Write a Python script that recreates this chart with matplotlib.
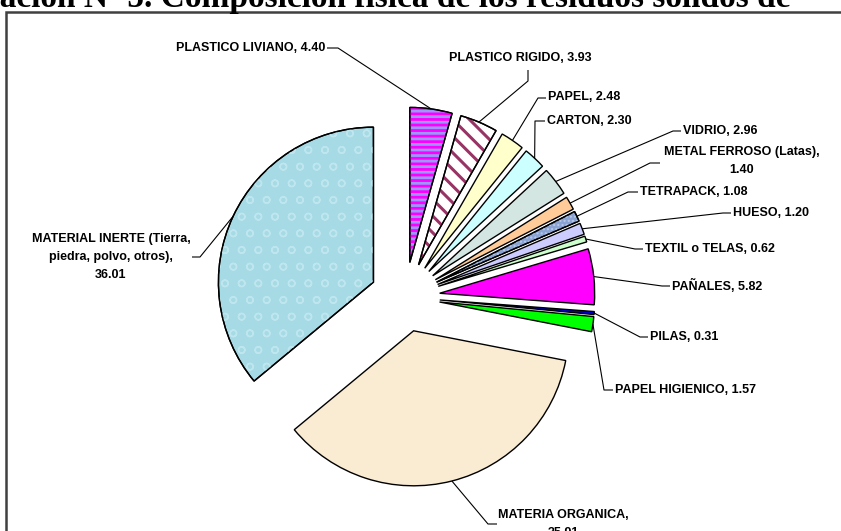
import numpy as np
import matplotlib
matplotlib.use("Agg")
import matplotlib.pyplot as plt
from matplotlib.patches import Wedge, Rectangle

# Composicion fisica de los residuos solidos (%)
categorias = [
    "PLASTICO LIVIANO", "PLASTICO RIGIDO", "PAPEL", "CARTON", "VIDRIO",
    "METAL FERROSO (Latas)", "TETRAPACK", "HUESO", "TEXTIL o TELAS",
    "PAÑALES", "PILAS", "PAPEL HIGIENICO", "MATERIA ORGANICA",
    "MATERIAL INERTE (Tierra,\npiedra, polvo, otros)",
]
valores = [4.40, 3.93, 2.48, 2.30, 2.96, 1.40, 1.08, 1.20, 0.62,
           5.82, 0.31, 1.57, 35.91, 36.01]
separadores = [", ", ", ", ", ", ", ", ", ", ",\n", ", ", ", ", ", ",
               ", ", ", ", ", ", ",\n", ",\n"]

colores = ["#9999ff", "#ffffff", "#ffffcc", "#ccffff", "#d3e6e2",
           "#ffcc99", "#8aa3d2", "#ccccff", "#ccffcc", "#ff00ff",
           "#0000cc", "#00ff00", "#faebd3", "#a6dbe6"]
# tramas (indice: (patron, color, grosor))
tramas = {0: ("---", "#ff00ff", 2.0), 1: ("\\\\", "#993366", 2.2),
          6: ("....", "#b8c8e8", 1.0), 13: ("o", "#bfe6ee", 1.0)}

# geometria en pixeles (origen arriba a la izquierda)
W, H = 841, 531
CX, CY, R = 405, 297, 155


def px(x, y):
    return (x - CX) / R, (CY - y) / R


# posicion del texto, alineacion, codo y final de la linea guia (pixeles)
etiquetas_pos = [
    ((325, 48), "right", (338, 48), (327, 48)),
    ((520, 58), "center", (528, 81), (528, 70)),
    ((548, 97), "left", (538, 98), (546, 98)),
    ((547, 121), "left", (535, 121), (545, 121)),
    ((683, 131), "left", (673, 131), (681, 131)),
    ((742, 161), "center", (650, 163), (660, 163)),
    ((640, 192), "left", (628, 192), (638, 192)),
    ((733, 213), "left", (723, 213), (731, 213)),
    ((645, 249), "left", (635, 249), (643, 249)),
    ((672, 286), "left", (662, 286), (670, 286)),
    ((650, 337), "left", (640, 337), (648, 337)),
    ((615, 390), "left", (604, 390), (613, 390)),
    ((563, 524), "center", (488, 524), (497, 524)),
    ((111, 257), "center", (200, 257), (192, 257)),
]

plt.rcParams["font.family"] = ["Liberation Sans", "DejaVu Sans"]

fig = plt.figure(figsize=(W / 100, H / 100), dpi=100)
ax = fig.add_axes([0, 0, 1, 1])

wedges, _ = ax.pie(valores, explode=[0.225] * len(valores), startangle=90,
                   counterclock=False, radius=1, colors=colores,
                   wedgeprops=dict(edgecolor="black", linewidth=1.0))

for i, (patron, col, grosor) in tramas.items():
    w = wedges[i]
    with plt.rc_context({"hatch.linewidth": grosor}):
        ax.add_patch(Wedge(w.center, w.r, w.theta1, w.theta2, facecolor="none",
                           edgecolor=col, hatch=patron, linewidth=0, zorder=2))
    ax.add_patch(Wedge(w.center, w.r, w.theta1, w.theta2, facecolor="none",
                       edgecolor="black", linewidth=1.0, zorder=3))

# etiquetas con lineas guia
for i, w in enumerate(wedges):
    (tx, ty), ha, codo, fin = etiquetas_pos[i]
    tm = np.deg2rad((w.theta1 + w.theta2) / 2)
    axp = w.center[0] + w.r * np.cos(tm)
    ayp = w.center[1] + w.r * np.sin(tm)
    c = px(*codo)
    f = px(*fin)
    ax.plot([axp, c[0], f[0]], [ayp, c[1], f[1]], color="black", lw=0.8,
            zorder=4, solid_capstyle="butt")
    texto = f"{categorias[i]}{separadores[i]}{valores[i]:.2f}"
    ax.text(*px(tx, ty), texto, ha=ha, va="center", multialignment="center",
            fontsize=9, fontweight="bold", linespacing=1.7, zorder=5)

ax.set_xlim(px(0, 0)[0], px(W, 0)[0])
ax.set_ylim(px(0, H)[1], px(0, 0)[1])
ax.set_aspect("auto")
ax.axis("off")

# marco del area del grafico
fig.add_artist(Rectangle((6 / W, -0.2), 1.2, (H - 12) / H + 0.2,
                         transform=fig.transFigure, fill=False,
                         edgecolor="#404040", linewidth=1.8))

# titulo (recortado en el borde superior)
fig.text(-80 / W, 1 - 7 / H,
         "Ilustración Nº 5. Composición física de los residuos sólidos de",
         ha="left", va="baseline", fontsize=24, fontweight="bold",
         family=["Liberation Serif", "DejaVu Serif"])

fig.savefig("out.png", dpi=100)
